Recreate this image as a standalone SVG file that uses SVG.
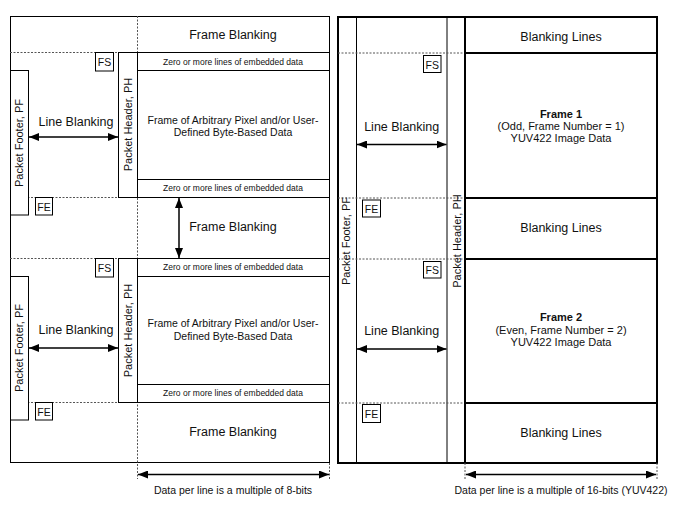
<svg xmlns="http://www.w3.org/2000/svg" width="677" height="506" viewBox="0 0 677 506">
<defs>
<marker id="ah" viewBox="0 0 10 8" refX="10" refY="4" markerWidth="10" markerHeight="8" markerUnits="userSpaceOnUse" orient="auto-start-reverse">
<path d="M0,0 L10,4 L0,8 z" fill="#000"/>
</marker>
<style>
.t{font-family:"Liberation Sans",Arial,sans-serif;fill:#111;text-anchor:middle}
.big{font-size:12.5px}
.mid{font-size:10.5px}
.sm{font-size:8.5px}
.lab{font-size:11px}
.box{fill:#fff;stroke:#000;stroke-width:1}
.ln{stroke:#000;stroke-width:1;fill:none}
.thk{stroke:#000;stroke-width:2;fill:none}
.dot{stroke:#555;stroke-width:1;stroke-dasharray:2 1.5;fill:none}
.arr{stroke:#000;stroke-width:1.5;fill:none;marker-start:url(#ah);marker-end:url(#ah)}
</style>
</defs>
<rect width="677" height="506" fill="#fff"/>

<!-- LEFT PANEL -->
<g id="left-panel">
<rect x="10.5" y="16.5" width="319" height="446" class="box"/>
<line x1="137.5" y1="16" x2="137.5" y2="479" class="dot"/>
<line x1="329.5" y1="463" x2="329.5" y2="479" class="dot"/>
<line x1="10" y1="52.5" x2="118" y2="52.5" class="dot"/>
<line x1="10" y1="197.5" x2="137" y2="197.5" class="dot"/>
<line x1="10" y1="258.5" x2="118" y2="258.5" class="dot"/>
<line x1="10" y1="402.5" x2="118" y2="402.5" class="dot"/>
</g>
<g id="frame-blanking-top"><text x="233" y="39" class="t big">Frame Blanking</text></g>
<g id="frame1-left">
<rect x="137.5" y="52.5" width="192" height="145" class="box"/>
<line x1="137.5" y1="70.5" x2="329.5" y2="70.5" class="ln"/>
<line x1="137.5" y1="179.5" x2="329.5" y2="179.5" class="ln"/>
<text x="233" y="64.5" class="t sm">Zero or more lines of embedded data</text>
<text x="233" y="123.5" class="t mid">Frame of Arbitrary Pixel and/or User-</text>
<text x="233" y="135.5" class="t mid">Defined Byte-Based Data</text>
<text x="233" y="190.5" class="t sm">Zero or more lines of embedded data</text>
</g>
<g id="ph-left-1"><rect x="118.5" y="52.5" width="19" height="145" class="box"/><text transform="translate(132,124.5) rotate(-90)" class="t lab">Packet Header, PH</text></g>
<g id="pf-left-1"><rect x="10.5" y="70.5" width="18" height="144.5" class="box"/><text transform="translate(23,143) rotate(-90)" class="t lab">Packet Footer, PF</text></g>
<g id="fs-left-1"><rect x="95.5" y="52.5" width="18" height="18.5" class="box"/><text x="104.5" y="66" class="t mid">FS</text></g>
<g id="fe-left-1"><rect x="35.5" y="197.5" width="17" height="17.5" class="box"/><text x="44" y="210.5" class="t mid">FE</text></g>
<g id="lb-left-1"><text x="76" y="125.5" class="t big">Line Blanking</text></g>
<g id="fb-mid-left"><text x="233" y="231" class="t big">Frame Blanking</text></g>

<g id="frame2-left">
<rect x="137.5" y="258.5" width="192" height="144" class="box"/>
<line x1="137.5" y1="276.5" x2="329.5" y2="276.5" class="ln"/>
<line x1="137.5" y1="384.5" x2="329.5" y2="384.5" class="ln"/>
<text x="233" y="269.5" class="t sm">Zero or more lines of embedded data</text>
<text x="233" y="327" class="t mid">Frame of Arbitrary Pixel and/or User-</text>
<text x="233" y="339.5" class="t mid">Defined Byte-Based Data</text>
<text x="233" y="395.5" class="t sm">Zero or more lines of embedded data</text>
</g>
<g id="ph-left-2"><rect x="118.5" y="258.5" width="19" height="144" class="box"/><text transform="translate(132,330.5) rotate(-90)" class="t lab">Packet Header, PH</text></g>
<g id="pf-left-2"><rect x="10.5" y="276.5" width="18" height="143.5" class="box"/><text transform="translate(23,348) rotate(-90)" class="t lab">Packet Footer, PF</text></g>
<g id="fs-left-2"><rect x="95.5" y="258.5" width="18" height="18.5" class="box"/><text x="104.5" y="272" class="t mid">FS</text></g>
<g id="fe-left-2"><rect x="35.5" y="402.5" width="17" height="17.5" class="box"/><text x="44" y="415.5" class="t mid">FE</text></g>
<g id="lb-left-2"><text x="76" y="333.5" class="t big">Line Blanking</text></g>
<g id="fb-bottom-left"><text x="233" y="436" class="t big">Frame Blanking</text></g>
<g id="dim-left"><text x="233" y="494" class="t mid">Data per line is a multiple of 8-bits</text></g>

<!-- RIGHT PANEL -->
<g id="right-panel">
<rect x="338" y="17" width="319" height="446" class="thk"/>
<line x1="356.5" y1="17" x2="356.5" y2="463" class="ln"/>
<line x1="447" y1="17" x2="447" y2="463" class="ln"/>
<line x1="465" y1="17" x2="465" y2="463" class="thk"/>
<line x1="338" y1="53" x2="465" y2="53" class="dot"/>
<line x1="338" y1="198" x2="465" y2="198" class="dot"/>
<line x1="338" y1="259" x2="465" y2="259" class="dot"/>
<line x1="338" y1="403" x2="465" y2="403" class="dot"/>
<line x1="465" y1="463" x2="465" y2="479" class="dot"/>
<line x1="657" y1="463" x2="657" y2="479" class="dot"/>
</g>
<g id="bl-top"><text x="561" y="40.5" class="t big">Blanking Lines</text></g>
<g id="frame1-right">
<rect x="465" y="53" width="192" height="145" class="thk"/>
<text x="561" y="117.5" class="t lab" font-weight="bold">Frame 1</text>
<text x="561" y="129.5" class="t lab">(Odd, Frame Number = 1)</text>
<text x="561" y="141.5" class="t lab">YUV422 Image Data</text>
</g>
<g id="bl-mid"><text x="561" y="232" class="t big">Blanking Lines</text></g>
<g id="frame2-right">
<rect x="465" y="259" width="192" height="144" class="thk"/>
<text x="561" y="321" class="t lab" font-weight="bold">Frame 2</text>
<text x="561" y="333.5" class="t lab">(Even, Frame Number = 2)</text>
<text x="561" y="346" class="t lab">YUV422 Image Data</text>
</g>
<g id="bl-bottom"><text x="561" y="437" class="t big">Blanking Lines</text></g>
<g id="pf-right"><text transform="translate(350,241) rotate(-90)" class="t lab">Packet Footer, PF</text></g>
<g id="ph-right"><text transform="translate(460.5,241) rotate(-90)" class="t lab">Packet Header, PH</text></g>
<g id="fs-right-1"><rect x="423.5" y="55.5" width="17.5" height="17" class="box"/><text x="432.2" y="68.5" class="t mid">FS</text></g>
<g id="fs-right-2"><rect x="423.5" y="261.5" width="17.5" height="16.5" class="box"/><text x="432.2" y="274" class="t mid">FS</text></g>
<g id="fe-right-1"><rect x="362.5" y="200" width="18" height="17" class="box"/><text x="371.5" y="212.5" class="t mid">FE</text></g>
<g id="fe-right-2"><rect x="362.5" y="404.5" width="18" height="18" class="box"/><text x="371.5" y="417.5" class="t mid">FE</text></g>
<g id="lb-right-1"><text x="401.7" y="131" class="t big">Line Blanking</text></g>
<g id="lb-right-2"><text x="401.7" y="335" class="t big">Line Blanking</text></g>
<g id="dim-right"><text x="561" y="494" class="t mid">Data per line is a multiple of 16-bits (YUV422)</text></g>

<!-- CONNECTORS -->
<g id="connectors">
<line x1="29" y1="137" x2="118" y2="137" class="arr"/>
<line x1="29" y1="348" x2="118" y2="348" class="arr"/>
<line x1="179" y1="198" x2="179" y2="258" class="arr"/>
<line x1="138" y1="474.5" x2="329" y2="474.5" class="arr"/>
<line x1="357" y1="144.5" x2="446.5" y2="144.5" class="arr"/>
<line x1="357" y1="349" x2="446.5" y2="349" class="arr"/>
<line x1="466" y1="474.5" x2="656" y2="474.5" class="arr"/>
</g>
</svg>
